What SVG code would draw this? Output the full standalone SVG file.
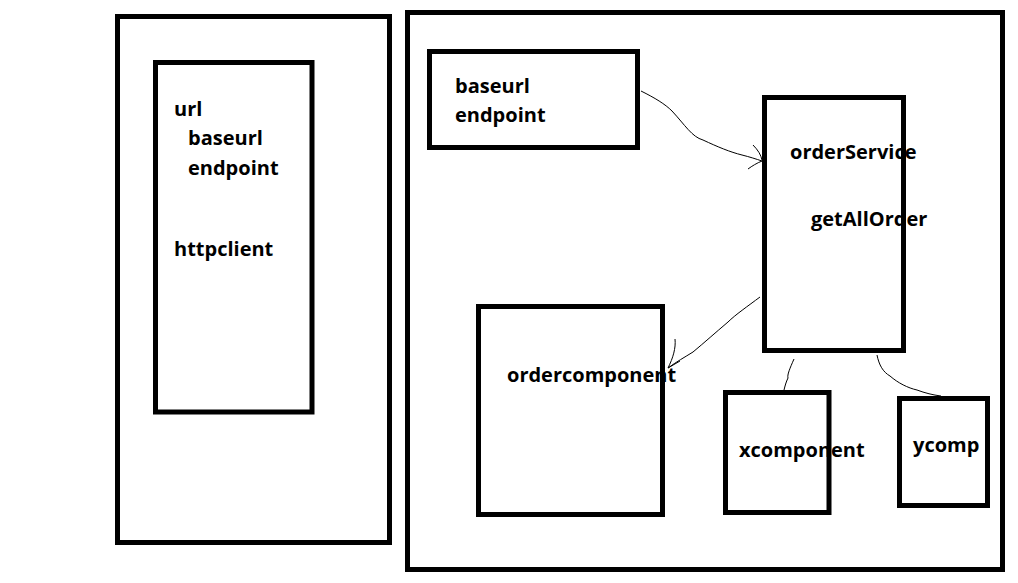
<svg xmlns="http://www.w3.org/2000/svg" width="1018" height="583" viewBox="0 0 1018 583">
<style>
.box{fill:none;stroke:#000;stroke-width:5}
.t{font-family:"Open Sans","Noto Sans","DejaVu Sans",sans-serif;font-weight:bold;font-size:20px;fill:#000}
.c{fill:none;stroke:#000;stroke-width:1}
</style>
<rect width="1018" height="583" fill="#fff"/>
<g id="client-container">
<rect class="box" x="117.5" y="16.5" width="272" height="526"/>
</g>
<g id="http-node">
<rect class="box" x="155.5" y="62.5" width="156.5" height="349.5"/>
<text class="t" x="174" y="116">url</text>
<text class="t" x="188" y="145">baseurl</text>
<text class="t" x="188" y="175">endpoint</text>
<text class="t" x="174" y="256">httpclient</text>
</g>
<g id="app-container">
<rect class="box" x="407.5" y="12.5" width="595" height="557"/>
</g>
<g id="config-node">
<rect class="box" x="429.5" y="51.5" width="208" height="96"/>
<text class="t" x="455" y="93">baseurl</text>
<text class="t" x="455" y="122">endpoint</text>
</g>
<g id="orderService">
<rect class="box" x="764.5" y="97.5" width="139" height="253"/>
<text class="t" x="790" y="159">orderService</text>
<text class="t" x="811" y="226">getAllOrder</text>
</g>
<g id="ordercomponent">
<rect class="box" x="478.5" y="306.5" width="184" height="208"/>
<text class="t" x="507" y="382">ordercomponent</text>
</g>
<g id="xcomponent">
<rect class="box" x="725.5" y="392.5" width="103.5" height="120"/>
<text class="t" x="739" y="457">xcomponent</text>
</g>
<g id="ycomp">
<rect class="box" x="899.5" y="398.5" width="88" height="107"/>
<text class="t" x="913" y="452">ycomp</text>
</g>
<g id="connectors">
<path class="c" d="M641,91 C655,98 665,104 672,111 C685,125 692,137 703,140 C718,147 730,152 742,155 C750,157 756,159 762,161"/>
<path class="c" d="M753,145 C758,150 761,155 762,160 M748,169 C752,166 757,163 762,161"/>
<path class="c" d="M760,297 C748,306 735,315 728,322 C715,333 705,342 693,352 C685,357 676,362 668,368"/>
<path class="c" d="M675,339 C676,348 673,358 668,368 M680,361 C676,363 672,366 668,368"/>
<path class="c" d="M794,359 C790,368 787,375 788,378 C786,382 785,386 784,390"/>
<path class="c" d="M877,355 C879,365 883,372 890,376 C898,383 908,388 917,390 C925,393 933,395 941,396"/>
</g>
</svg>
